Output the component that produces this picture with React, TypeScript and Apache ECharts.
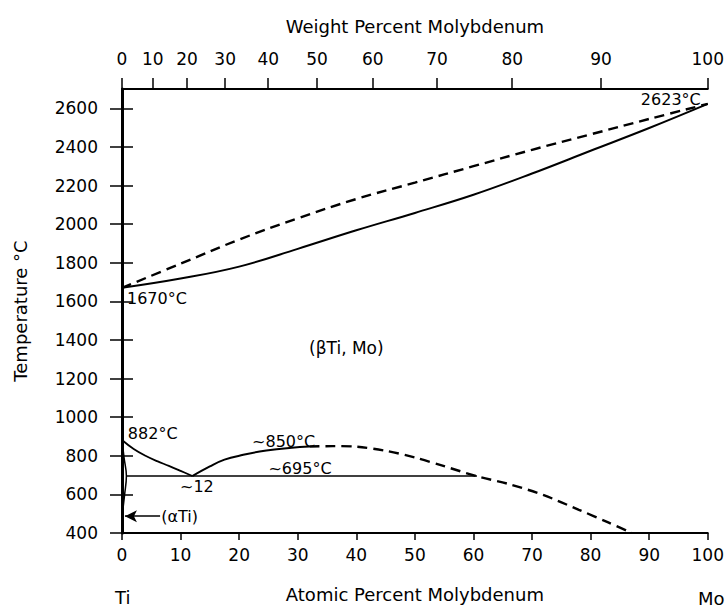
import React, { useEffect, useRef } from "react";
import * as echarts from "echarts";

// Ti–Mo phase diagram: temperature (°C) against atomic percent molybdenum.

// Liquidus (dashed) and solidus (solid) between the two melting points.
const liquidusX = [0, 10, 20, 30, 40, 50, 60, 70, 80, 90, 100];
const liquidusT = [1670, 1795, 1920, 2030, 2130, 2215, 2300, 2385, 2465, 2545, 2623];
const solidusX = [0, 10, 20, 30, 40, 50, 60, 70, 80, 90, 100];
const solidusT = [1670, 1718, 1780, 1872, 1968, 2058, 2152, 2262, 2380, 2498, 2623];

// β transus from the Ti transformation point down to the eutectoid.
const transusX = [0, 2, 4, 6, 8, 10, 12];
const transusT = [882, 835, 800, 772, 748, 722, 695];

// Miscibility gap: established part (solid) and estimated part (dashed).
const gapSolidX = [12, 15, 17.5, 20.7, 23.5, 26.4, 29, 32];
const gapSolidT = [695, 745, 780, 805, 822, 834, 842, 848];
const gapDashedX = [32, 36, 40, 45, 50, 55, 60.6, 66, 72, 78, 83, 87];
const gapDashedT = [848, 850, 847, 826, 791, 746, 694, 654, 596, 520, 455, 400];

// (αTi) solvus close to pure Ti.
const alphaX = [0, 0.35, 0.75, 0.45, 0.15, 0];
const alphaT = [882, 790, 695, 600, 520, 470];

// Eutectoid isotherm.
const eutectoidT = 695;
const eutectoidX = [0.75, 60.6];

// Axis ticks.
const tempTicks = [400, 600, 800, 1000, 1200, 1400, 1600, 1800, 2000, 2200, 2400, 2600];
const weightTicks = [0, 10, 20, 30, 40, 50, 60, 70, 80, 90, 100];

// Annotations: [atomic % Mo, temperature, text, alignment, font size]
const notes: [number, number, string, string, number][] = [
  [0.85, 1616, "1670°C", "left", 16],
  [98.8, 2645, "2623°C", "right", 16],
  [38.3, 1360, "(βTi, Mo)", "center", 17],
  [1.0, 915, "882°C", "left", 16],
  [22.2, 874, "~850°C", "left", 16],
  [25, 732, "~695°C", "left", 16],
  [9.9, 640, "~12", "left", 16],
  [6.7, 487, "(αTi)", "left", 16],
];

const arrowFrom = [6.5, 487];
const arrowTo = [0.5, 487];

const MASS_TI = 47.867;
const MASS_MO = 95.95;
// Weight percent Mo -> atomic percent Mo (positions of the top scale).
const toAtomic = (w: number) => {
  const mo = w / MASS_MO;
  const ti = (100 - w) / MASS_TI;
  return (100 * mo) / (mo + ti);
};
const topTickPos = weightTicks.map(toAtomic);

const zip = (xs: number[], ys: number[]) => xs.map((x, i) => [x, ys[i]]);

const FONT = "DejaVu Sans";
const INK = "#000";

export default function App() {
  const ref = useRef<HTMLDivElement>(null);

  useEffect(() => {
    if (!ref.current) return;
    const chart = echarts.init(ref.current, null, { renderer: "svg" });

    const solid = (w: number) => ({ color: INK, width: w, type: "solid" as const });
    const dashed = { color: INK, width: 2.4, type: [10, 6] as number[] };
    const nameStyle = { fontSize: 18, color: INK, fontFamily: FONT };

    const option: any = {
      animation: false,
      backgroundColor: "#fff",
      textStyle: { fontFamily: FONT, color: INK },
      grid: { left: 122, right: 19, top: 89, bottom: 67 },
      xAxis: [
        {
          type: "value",
          position: "bottom",
          min: 0,
          max: 100,
          interval: 10,
          name: "Atomic Percent Molybdenum",
          nameLocation: "middle",
          nameGap: 52,
          nameTextStyle: nameStyle,
          axisLine: { lineStyle: { color: INK, width: 2 } },
          axisTick: { length: 7, lineStyle: { color: INK, width: 1.5 } },
          axisLabel: { fontSize: 17, color: INK, margin: 13, fontFamily: FONT },
          splitLine: { show: false },
        },
        {
          type: "value",
          position: "top",
          min: 0,
          max: 100,
          name: "Weight Percent Molybdenum",
          nameLocation: "middle",
          nameGap: 54,
          nameTextStyle: nameStyle,
          axisLine: { lineStyle: { color: INK, width: 2 } },
          axisTick: { customValues: topTickPos, length: 11, lineStyle: { color: INK, width: 1.5 } },
          axisLabel: {
            customValues: topTickPos,
            fontSize: 17,
            color: INK,
            margin: 22,
            fontFamily: FONT,
            formatter: (v: number) => {
              const i = topTickPos.findIndex((p) => Math.abs(p - v) < 1e-6);
              return i >= 0 ? String(weightTicks[i]) : "";
            },
          },
          splitLine: { show: false },
        },
      ],
      yAxis: [
        {
          type: "value",
          position: "left",
          min: 400,
          max: 2700,
          name: "Temperature °C",
          nameLocation: "middle",
          nameGap: 93,
          nameRotate: 90,
          nameTextStyle: nameStyle,
          axisLine: { lineStyle: { color: INK, width: 2 } },
          axisTick: { customValues: tempTicks, length: 12, lineStyle: { color: INK, width: 1.5 } },
          axisLabel: {
            customValues: tempTicks,
            fontSize: 17,
            color: INK,
            margin: 24,
            fontFamily: FONT,
            formatter: (v: number) => String(v),
          },
          splitLine: { show: false },
        },
        {
          type: "value",
          position: "right",
          min: 400,
          max: 2700,
          axisLine: { show: true, lineStyle: { color: INK, width: 3 } },
          axisTick: { show: true, customValues: tempTicks, length: 11, lineStyle: { color: INK, width: 1.5 } },
          axisLabel: { show: false },
          splitLine: { show: false },
        },
      ],
      series: [
        {
          name: "liquidus",
          type: "line",
          data: zip(liquidusX, liquidusT),
          smooth: 0.4,
          showSymbol: false,
          lineStyle: dashed,
        },
        {
          name: "solidus",
          type: "line",
          data: zip(solidusX, solidusT),
          smooth: 0.4,
          showSymbol: false,
          lineStyle: solid(2),
        },
        {
          name: "transus",
          type: "line",
          data: zip(transusX, transusT),
          smooth: 0.4,
          showSymbol: false,
          lineStyle: solid(1.8),
        },
        {
          name: "gap",
          type: "line",
          data: zip(gapSolidX, gapSolidT),
          smooth: 0.4,
          showSymbol: false,
          lineStyle: solid(2),
        },
        {
          name: "gap-estimated",
          type: "line",
          data: zip(gapDashedX, gapDashedT),
          smooth: 0.3,
          showSymbol: false,
          lineStyle: dashed,
        },
        {
          name: "alpha-solvus",
          type: "line",
          data: zip(alphaX, alphaT),
          smooth: 0.4,
          showSymbol: false,
          lineStyle: solid(1.5),
        },
        {
          name: "eutectoid",
          type: "line",
          data: eutectoidX.map((x) => [x, eutectoidT]),
          showSymbol: false,
          lineStyle: solid(1.5),
          markLine: {
            silent: true,
            symbol: ["none", "arrow"],
            symbolSize: [9, 12],
            label: { show: false },
            lineStyle: { color: INK, width: 1.5, type: "solid" },
            data: [[{ coord: arrowFrom }, { coord: arrowTo }]],
          },
        },
        {
          name: "notes",
          type: "scatter",
          symbolSize: 0,
          z: 10,
          itemStyle: { opacity: 1 },
          data: notes.map(([x, t, text, align, size]) => ({
            value: [x, t],
            name: text,
            label: { align, fontSize: size },
          })),
          label: {
            show: true,
            position: "inside",
            formatter: "{b}",
            verticalAlign: "middle",
            color: INK,
            opacity: 1,
            textBorderWidth: 0,
            fontFamily: FONT,
          },
        },
      ],
      graphic: [
        {
          type: "text",
          left: 115,
          top: 588,
          style: { text: "Ti", fontSize: 18, fontFamily: FONT, fill: INK },
        },
        {
          type: "text",
          left: 698,
          top: 589,
          style: { text: "Mo", fontSize: 18, fontFamily: FONT, fill: INK },
        },
      ],
    };

    chart.setOption(option);
    return () => chart.dispose();
  }, []);

  return (
    <div
      ref={ref}
      style={{ position: "absolute", left: 0, top: 0, width: 727, height: 608 }}
    />
  );
}
